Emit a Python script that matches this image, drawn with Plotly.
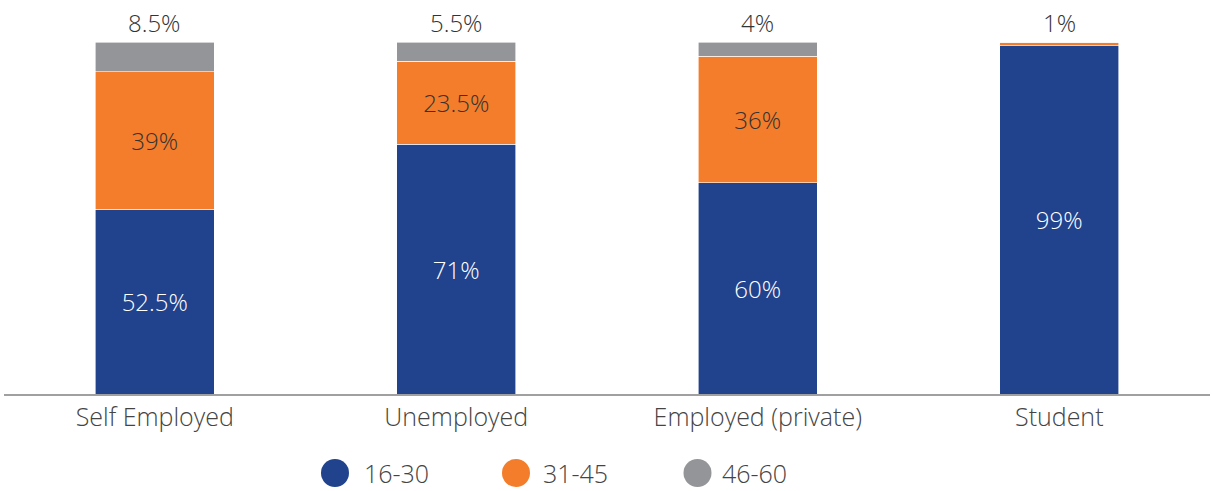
import plotly.graph_objects as go

categories = ["Self Employed", "Unemployed", "Employed (private)", "Student"]
age_16_30 = [52.5, 71, 60, 99]
age_31_45 = [39, 23.5, 36, 1]
age_46_60 = [8.5, 5.5, 4, 0]
series_names = ["16-30", "31-45", "46-60"]
colors = ["#21428c", "#f47d2b", "#939598"]

FONT = "Open Sans"
FW = 300
FS = 24
FS_AX = 25
W, H = 1212, 491
L, R, T, B = 4, 2, 42, 97

def fmt(v):
    return (f"{v:g}%")

fig = go.Figure()
series = [age_16_30, age_31_45, age_46_60]
for i, (name, vals) in enumerate(zip(series_names, series)):
    if i == 0:
        texts = [fmt(v) for v in vals]
        tc = "white"
    elif i == 1:
        texts = [fmt(v) if v >= 5 else "" for v in vals]
        tc = "#333333"
    else:
        texts = ["" for v in vals]
        tc = "#333333"
    fig.add_trace(go.Bar(
        x=categories, y=vals, name=name,
        marker=dict(color=colors[i], line=dict(color="white", width=0.6)),
        text=texts, textposition="inside", insidetextanchor="middle",
        textfont=dict(family=FONT, size=FS, color=tc, weight=FW),
        textangle=0, showlegend=False, cliponaxis=False,
    ))

# top labels: topmost non-zero segment
annotations = []
for j, c in enumerate(categories):
    top = None
    for vals in series:
        if vals[j] > 0:
            top = vals[j]
    total = sum(vals[j] for vals in series)
    annotations.append(dict(x=c, y=total, xref="x", yref="y", text=fmt(top),
                            showarrow=False, yanchor="bottom", yshift=1,
                            font=dict(family=FONT, size=FS, color="#333333", weight=FW)))

# custom legend
plot_w = W - L - R
plot_h = H - T - B
leg_y_px = 473
leg_y = (H - B - leg_y_px) / plot_h
circle_x = [335, 516, 697.5]
text_x = [362, 541, 720]
shapes = []
for cx, tx, name, col in zip(circle_x, text_x, series_names, colors):
    px = (cx - L) / plot_w
    shapes.append(dict(type="circle", xref="paper", yref="paper",
                       xsizemode="pixel", ysizemode="pixel",
                       xanchor=px, yanchor=leg_y, x0=-14, x1=14, y0=-14, y1=14,
                       fillcolor=col, line=dict(width=0)))
    annotations.append(dict(x=(tx - L) / plot_w, y=leg_y, xref="paper", yref="paper",
                            text=name, showarrow=False, xanchor="left", yanchor="middle",
                            font=dict(family=FONT, size=FS_AX, color="#444444", weight=FW)))

fig.update_layout(
    width=W, height=H,
    margin=dict(l=L, r=R, t=T, b=B, pad=0, autoexpand=False),
    barmode="stack", bargap=0.605,
    plot_bgcolor="white", paper_bgcolor="white",
    annotations=annotations, shapes=shapes,
    font=dict(family=FONT, size=FS, color="#444444", weight=FW),
    uniformtext=dict(minsize=10, mode="show"),
)
fig.update_xaxes(showline=True, linecolor="#a0a0a0", linewidth=2, ticks="",
                 tickfont=dict(family=FONT, size=FS_AX, color="#444444", weight=FW),
                 showgrid=False, zeroline=False)
fig.update_yaxes(range=[0, 100], visible=False, showgrid=False, zeroline=False)

fig.write_html("out.html", config={"displayModeBar": False},
               post_script="document.body.style.margin='0';document.body.style.overflow='hidden';")
